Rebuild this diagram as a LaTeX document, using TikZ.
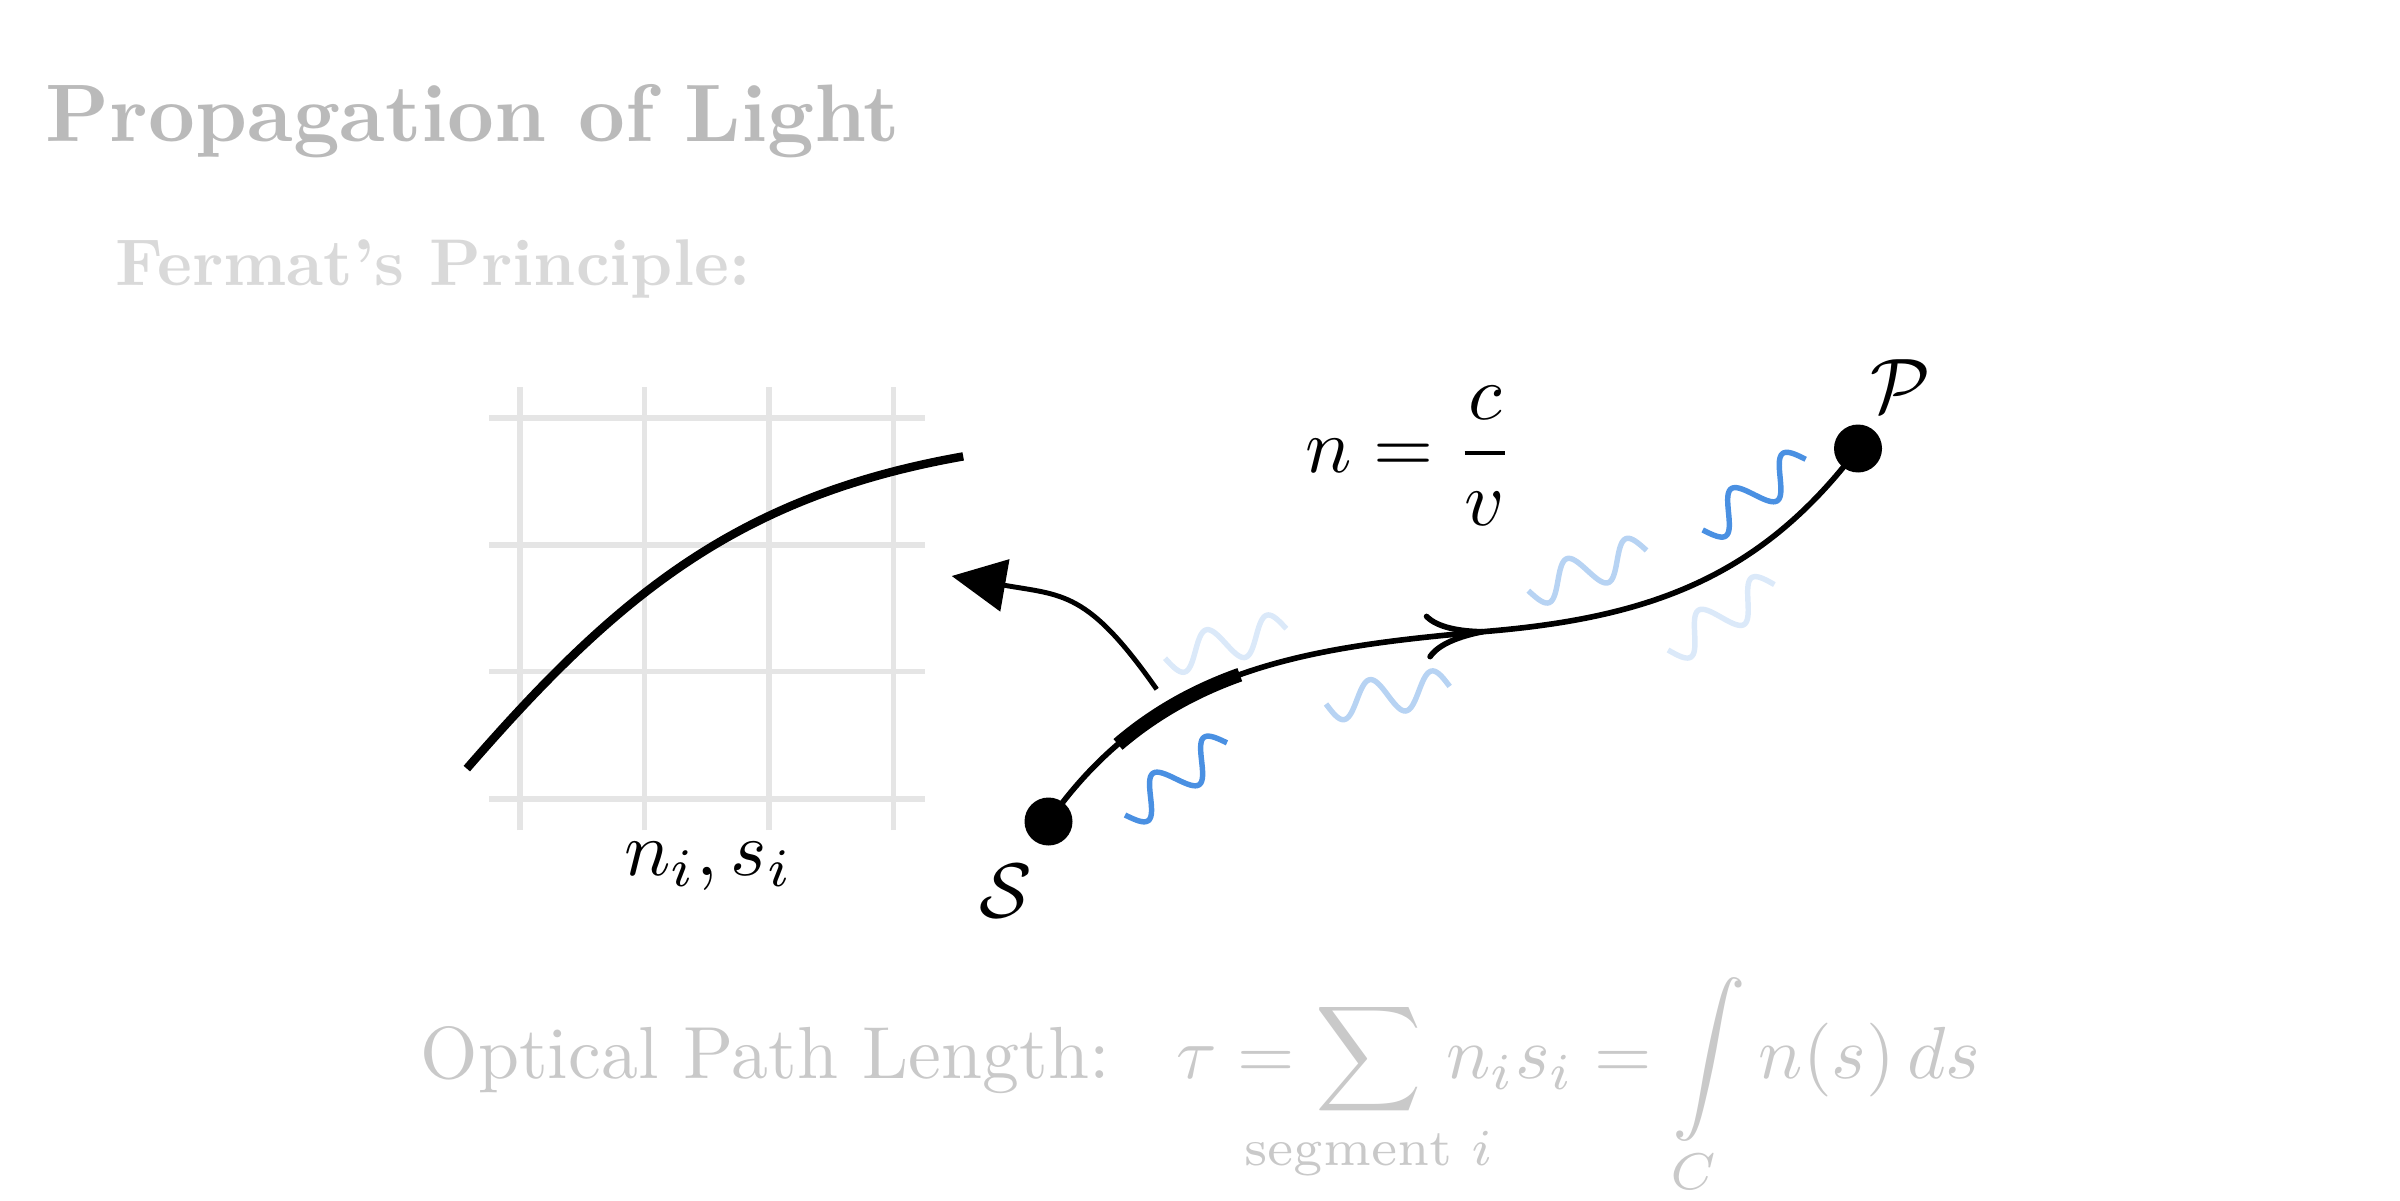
\documentclass[tikz,border=0pt]{standalone}
\usepackage{amsmath}
\usetikzlibrary{arrows.meta,decorations.markings}
\definecolor{wblue}{HTML}{4A90E2}
\definecolor{gridgray}{HTML}{E5E5E5}
\newcommand{\bigmath}[1]{\scalebox{2.2}{#1}}
\newcommand{\clapsub}[1]{\makebox[0pt]{$\scriptstyle #1$}}
\begin{document}
\begin{tikzpicture}[
  gridline/.style={draw=gridgray, line width=1.6pt},
  dot/.style={circle, fill=black, inner sep=0pt, minimum size=0.48cm},
  ray/.style={line width=1.6pt},
  wavebase/.style={line width=1.55pt},
  wig/.pic={\draw[wavebase] plot[domain=0:1.25, samples=80, smooth] (\x,{-0.18*sin(\x*576)});},
]
\useasboundingbox (0,0) rectangle (24,12);

% blurred background texts
\node[anchor=base west, text=black!27, inner sep=0pt] (title) at (0.45,10.58) {\scalebox{2.32}{\bfseries Propagation of Light}};
\node[anchor=base west, text=black!15, inner sep=0pt] (sub) at (1.15,9.15) {\scalebox{1.88}{\bfseries Fermat's Principle:}};
\node[anchor=base west, text=black!21, inner sep=0pt] (opl) at (4.2,1.22) {\scalebox{2.1}{Optical Path Length:\hspace{0.9em}$\displaystyle\tau = \sum_{\clapsub{\text{segment } i}}\, n_i s_i = \int\limits_{C} n(s)\,ds$}};

% grid
\foreach \x in {5.20,6.443,7.69,8.936} \draw[gridline] (\x,3.696) -- (\x,8.132);
\foreach \y in {7.818,6.55,5.286,4.01} \draw[gridline] (4.89,\y) -- (9.246,\y);
\coordinate (gA) at (4.668,4.314);
\coordinate (gB) at (9.632,7.436);
\draw[line width=2.4pt] (gA) .. controls (6.174,6.047) and (7.371,7.037) .. (gB);
\node[anchor=base, inner sep=0pt] (nslab) at (7.085,3.25) {\bigmath{$n_i, s_i$}};

% wiggles
\pic[rotate=35.2, color=wblue] at (11.25,3.85) {wig};
\pic[rotate=13.6, color=wblue!20] at (11.65,5.417) {wig};
\pic[rotate=8, color=wblue!40] at (13.26,4.96) {wig};
\pic[rotate=18.7, color=wblue!40] at (15.283,6.093) {wig};
\pic[rotate=31.5, color=wblue!20] at (16.68,5.50) {wig};
\pic[rotate=34.4, color=wblue] at (17.027,6.70) {wig};

% points
\node[dot] (S) at (10.485,3.785) {};
\node[dot] (P) at (18.58,7.515) {};
\node[inner sep=0pt] (Slab) at (10.06,3.09) {\bigmath{$\mathcal{S}$}};
\node[inner sep=0pt] (Plab) at (19.01,8.14) {\bigmath{$\mathcal{P}$}};
\node[inner sep=0pt] (nlab) at (14.10,7.44) {\bigmath{$n = \dfrac{c}{v}$}};

% ray
\coordinate (M) at (14.91,5.69);
\draw[ray, postaction={decorate}, decoration={markings, mark=at position 0.535 with {\arrow{Computer Modern Rightarrow[length=6mm,width=4.6mm]}}}]
  (S.center) .. controls (11.567,5.326) and (13.03,5.526) .. (M)
  .. controls (16.509,5.83) and (17.614,6.233) .. (P.center);

% thick segment ds
\coordinate (dsA) at (11.180,4.556);
\coordinate (dsB) at (12.398,5.253);
\draw[line width=4pt] (dsA) .. controls (11.551,4.874) and (11.958,5.096) .. (dsB);

% curved arrow to the grid
\coordinate (arrS) at (11.567,5.107);
\coordinate (arrE) at (9.517,6.24);
\draw[line width=1.4pt, -{Triangle[length=5.4mm,width=5.2mm]}] (arrS) .. controls (10.875,6.095) and (10.63,6.044) .. (arrE);
\end{tikzpicture}
\end{document}
